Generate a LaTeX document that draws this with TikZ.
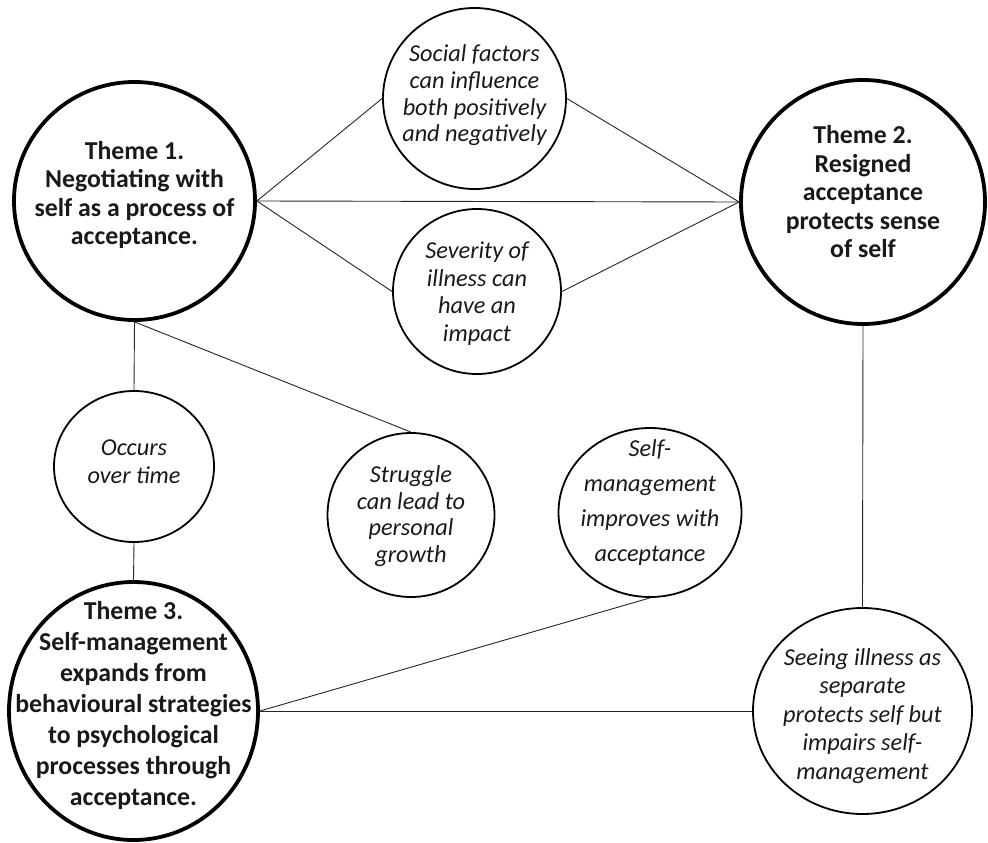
\documentclass[tikz,border=0pt]{standalone}
\usepackage{fontspec}
\setmainfont{Carlito}
\usetikzlibrary{shapes.geometric}
\begin{document}
\begin{tikzpicture}[x=1pt,y=-1pt,
  theme/.style={draw=black, line width=3.8pt, ellipse, inner sep=0pt},
  sub/.style={draw=black, line width=1.8pt, ellipse, inner sep=0pt},
  conn/.style={draw=black!85, line width=0.9pt},
  ttext/.style={align=center, font=\fontsize{25.8}{28.5}\selectfont\bfseries, text=black!90},
  stext/.style={align=center, font=\fontsize{24.3}{27.5}\selectfont\itshape, text=black!90}]
\useasboundingbox (0,0) rectangle (988,843);
% Themes
\node[theme, minimum width=241pt, minimum height=238pt,
  label={[ttext,yshift=6pt]center:{Theme 1.\\Negotiating with\\self as a process of\\acceptance.}}] (t1) at (134.5,201) {};
\node[theme, minimum width=244pt, minimum height=244pt,
  label={[ttext,yshift=10pt]center:{Theme 2.\\Resigned\\acceptance\\protects sense\\of self}}] (t2) at (863,202) {};
\node[theme, minimum width=249pt, minimum height=258pt,
  label={[ttext,font=\fontsize{25.8}{31}\selectfont\bfseries,yshift=6pt]center:{Theme 3.\\Self-management\\expands from\\behavioural strategies\\to psychological\\processes through\\acceptance.}}] (t3) at (133.5,711) {};
% Sub-themes
\node[sub, minimum width=183pt, minimum height=181pt,
  label={[stext,font=\fontsize{24.3}{26.7}\selectfont\itshape,yshift=3pt]center:{Social factors\\can influence\\both positively\\and negatively}}] (soc) at (474.5,98.5) {};
\node[sub, minimum width=168pt, minimum height=165pt,
  label={[stext,yshift=-2pt]center:{Severity of\\illness can\\have an\\impact}}] (sev) at (477,291.5) {};
\node[sub, minimum width=160pt, minimum height=151pt,
  label={[stext,yshift=5pt]center:{Occurs\\over time}}] (occ) at (134,466.5) {};
\node[sub, minimum width=167pt, minimum height=164pt,
  label={[stext,font=\fontsize{24.3}{26.5}\selectfont\itshape,yshift=-1pt]center:{Struggle\\can lead to\\personal\\growth}}] (str) at (411,515) {};
\node[sub, minimum width=183pt, minimum height=169pt,
  label={[stext,font=\fontsize{24.3}{35}\selectfont\itshape,yshift=10pt]center:{Self-\\management\\improves with\\acceptance}}] (sm) at (650,512.5) {};
\node[sub, minimum width=219pt, minimum height=206pt,
  label={[stext,font=\fontsize{24.3}{28.5}\selectfont\itshape,yshift=-5pt]center:{Seeing illness as\\separate\\protects self but\\impairs self-\\management}}] (see) at (862.5,711) {};
% Connectors
\draw[conn] (t1.east) -- (soc.west);
\draw[conn] (t1.east) -- (t2.west);
\draw[conn] (t1.east) -- (sev.west);
\draw[conn] (soc.east) -- (t2.west);
\draw[conn] (sev.east) -- (t2.west);
\draw[conn] (t1.south) -- (occ.north);
\draw[conn] (t1.south) -- (str.north);
\draw[conn] (occ.south) -- (t3.north);
\draw[conn] (t3.east) -- (sm.south);
\draw[conn] (t3.east) -- (see.west);
\draw[conn] (t2.south) -- (see.north);
\end{tikzpicture}
\end{document}
